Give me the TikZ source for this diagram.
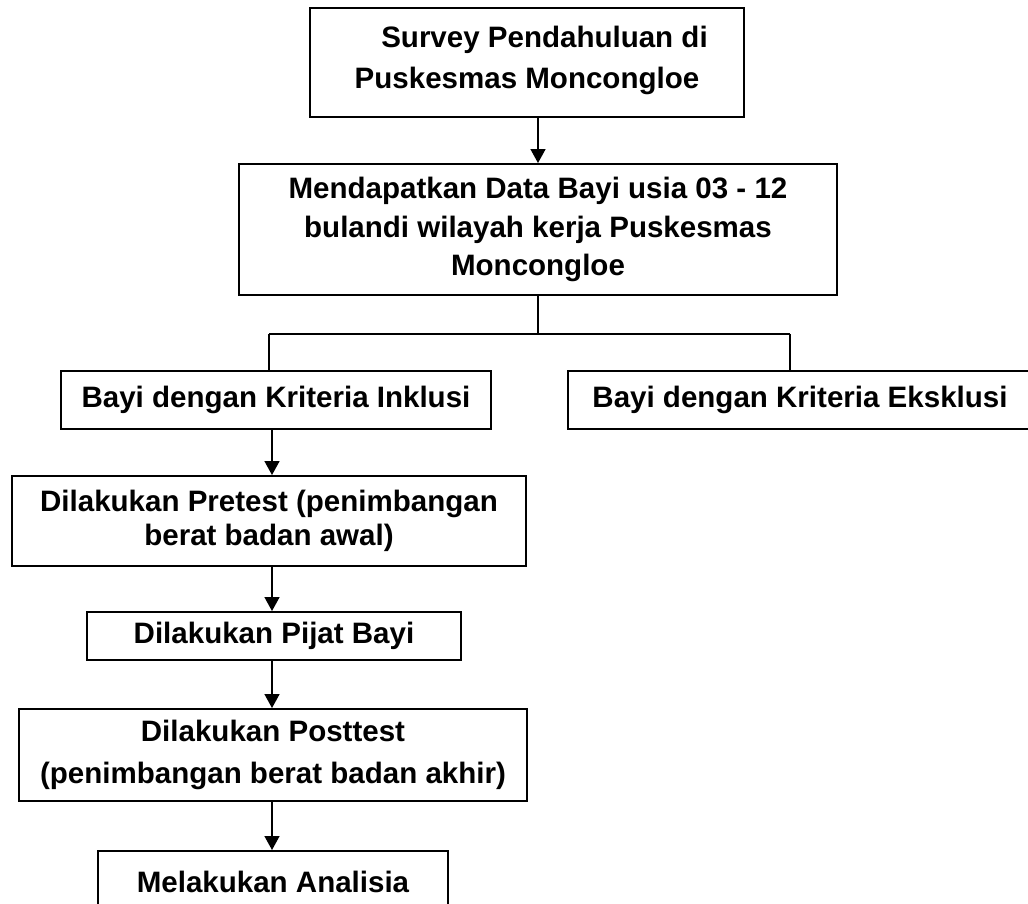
\documentclass[tikz,border=0pt]{standalone}
\usepackage{fontspec}
\setmainfont{Liberation Sans}
\usepackage{tikz}
\usetikzlibrary{arrows.meta}
\usetikzlibrary{positioning,calc}
\tikzset{
    stepbox/.style={
        draw,
        rectangle,
        line width=1.1pt,
        align=center,
        inner sep=2pt,
        font=\bfseries\fontsize{16.8}{22}\selectfont
    },
    flow/.style={
        draw,
        line width=0.85pt,
        -{Triangle[length=0.28cm, width=0.30cm]}
    },
    link/.style={
        draw,
        line width=0.85pt
    }
}

\begin{document}
\begin{tikzpicture}
  \useasboundingbox (0,0) rectangle (20.56,-18.08);

  % Top part
  \node[stepbox, minimum width=8.68cm, minimum height=2.18cm] (survey) at (10.54,-1.25)
    {\hspace*{0.7cm}Survey Pendahuluan di\\[1pt] Puskesmas Moncongloe\\[-16pt]};
  \node[stepbox, minimum width=11.96cm, minimum height=2.62cm] (data) at (10.76,-4.59)
    {Mendapatkan Data Bayi usia 03 - 12\\ bulandi wilayah kerja Puskesmas\\ Moncongloe};

  % Criteria
  \node[stepbox, minimum width=8.60cm, minimum height=1.16cm] (inklusi) at (5.52,-8.00)
    {Bayi dengan Kriteria Inklusi};
  \node[stepbox, minimum width=9.28cm, minimum height=1.16cm] (eksklusi) at (16.00,-8.00)
    {Bayi dengan Kriteria Eksklusi};

  % Steps
  \node[stepbox, minimum width=10.28cm, minimum height=1.80cm] (pretest) at (5.38,-10.42)
    {Dilakukan Pretest (penimbangan\\[-3pt] berat badan awal)};
  \node[stepbox, minimum width=7.48cm, minimum height=0.96cm] (pijat) at (5.48,-12.72)
    {Dilakukan Pijat Bayi};
  \node[stepbox, minimum width=10.16cm, minimum height=1.84cm] (posttest) at (5.46,-15.10)
    {Dilakukan Posttest\\[2pt] (penimbangan berat badan akhir)};
  \node[stepbox, anchor=north, minimum width=7.00cm, inner ysep=0.42cm,
        text height=0.42cm, text depth=0.8cm] (analisa) at (5.46,-17.00)
    {Melakukan Analisia};

  % Connectors
  \coordinate (split) at (10.76,-6.68);
  \coordinate (lft) at (5.38,-6.68);
  \coordinate (rgt) at (15.80,-6.68);
  \coordinate (spine) at (5.44,0);

  \draw[flow] (survey.south -| data) -- (data.north);
  \draw[link] (data.south) -- (split);
  \draw[link] (lft) -- (rgt);
  \draw[link] (lft) -- (lft |- inklusi.north);
  \draw[link] (rgt) -- (rgt |- eksklusi.north);
  \draw[flow] (inklusi.south -| spine) -- (pretest.north -| spine);
  \draw[flow] (pretest.south -| spine) -- (pijat.north -| spine);
  \draw[flow] (pijat.south -| spine) -- (posttest.north -| spine);
  \draw[flow] (posttest.south -| spine) -- (analisa.north -| spine);
\end{tikzpicture}
\end{document}
